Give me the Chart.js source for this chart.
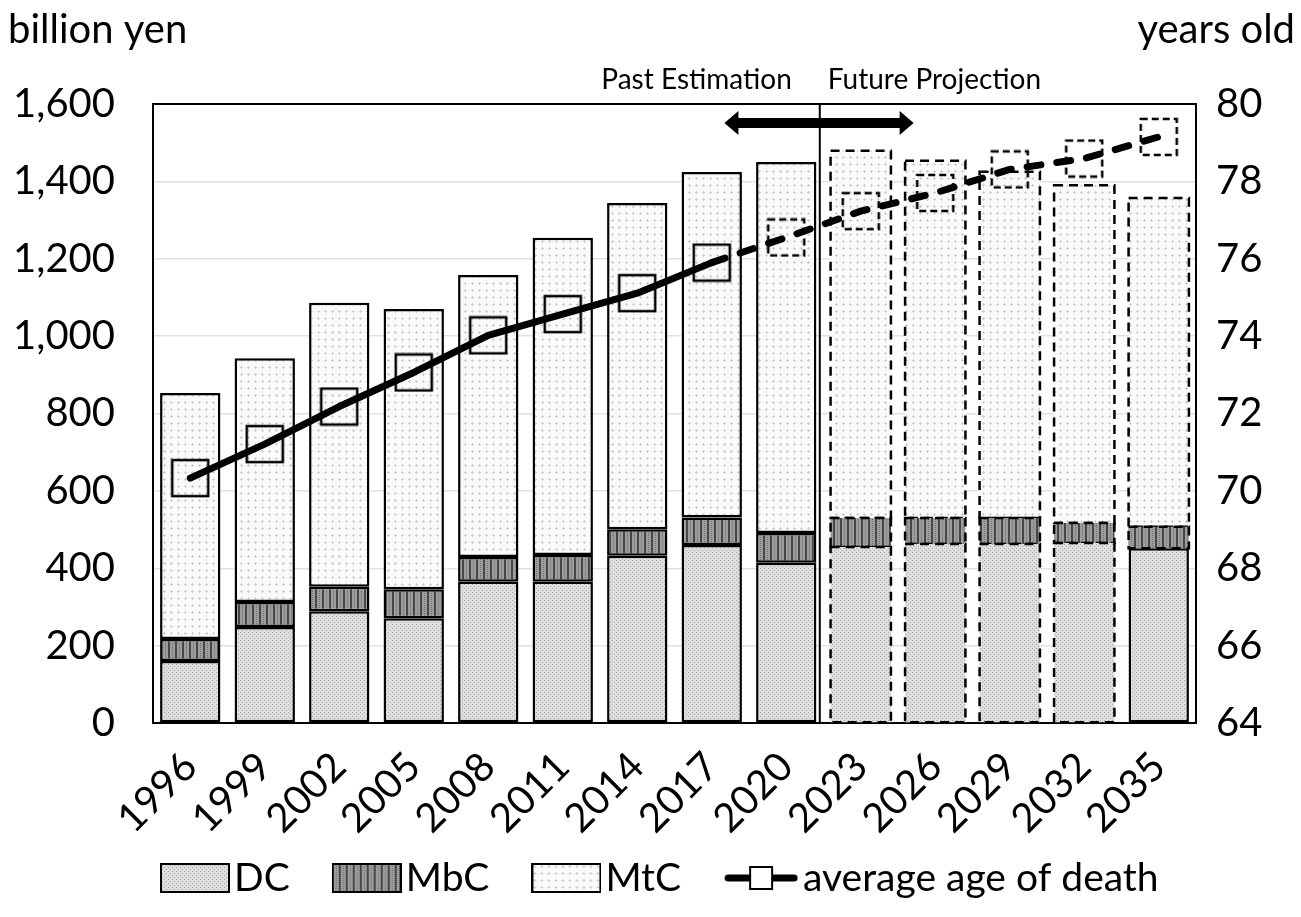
<!DOCTYPE html>
<html>
<head>
<meta charset="utf-8">
<script src="https://cdn.jsdelivr.net/npm/chart.js@4.4.1/dist/chart.umd.min.js"></script>
<style>
  html, body { margin: 0; padding: 0; background: #fff; }
  #wrap { width: 1301px; height: 917px; }
</style>
</head>
<body>
<div id="wrap"><canvas id="chart"></canvas></div>
<script>
// values (billion yen / years old)
const years = ['1996', '1999', '2002', '2005', '2008', '2011', '2014', '2017', '2020', '2023', '2026', '2029', '2032', '2035'];
const dcValues = [160, 248, 289, 271, 365, 365, 432, 460, 414, 455, 463, 463, 465, 452];
const mbcValues = [57, 65, 63, 75, 64, 69, 69, 71, 77, 75, 67, 67, 52, 55];
const mtcValues = [636, 630, 734, 724, 729, 820, 843, 893, 959, 949, 923, 895, 873, 850];
const ageValues = [70.33, 71.21, 72.18, 73.06, 74.02, 74.57, 75.11, 75.9, 76.55, 77.23, 77.7, 78.31, 78.59, 79.15];

const FONT = 'Lato, "Open Sans", sans-serif';
const FIRST_PROJECTED_BAR = 9;   // 2023
const FIRST_DASHED_MARKER = 8;   // 2020
const FIRST_DASHED_SEGMENT = 7;  // 2017 -> 2020

function makeCanvas(w, h, draw) {
  const c = document.createElement('canvas');
  c.width = w;
  c.height = h;
  draw(c.getContext('2d'));
  return c;
}

// fill textures
const dcTile = makeCanvas(4, 4, g => {
  g.fillStyle = '#dedede';
  g.fillRect(0, 0, 4, 4);
  g.fillStyle = '#a9a9a9';
  g.fillRect(0, 0, 1, 1);
  g.fillRect(2, 2, 1, 1);
});
const mbcTile = makeCanvas(7, 4, g => {
  g.fillStyle = '#9c9c9c';
  g.fillRect(0, 0, 7, 4);
  g.fillStyle = '#474747';
  g.fillRect(0, 0, 2, 4);
  g.fillStyle = '#6e6e6e';
  g.fillRect(4, 1, 1, 1);
  g.fillRect(4, 3, 1, 1);
});
const mtcTile = makeCanvas(7, 7, g => {
  g.fillStyle = '#fafafa';
  g.fillRect(0, 0, 7, 7);
  g.fillStyle = '#cfcfcf';
  g.fillRect(3, 2, 1, 3);
  g.fillRect(2, 3, 3, 1);
});

const patternCtx = document.createElement('canvas').getContext('2d');
const dcFill = patternCtx.createPattern(dcTile, 'repeat');
const mbcFill = patternCtx.createPattern(mbcTile, 'repeat');
const mtcFill = patternCtx.createPattern(mtcTile, 'repeat');

function squareMarker(dashed) {
  return makeCanvas(40, 40, g => {
    g.strokeStyle = '#000';
    g.lineWidth = 2.5;
    if (dashed) g.setLineDash([7, 4]);
    g.strokeRect(2, 2, 36, 36);
  });
}
const solidSquare = squareMarker(false);
const dashedSquare = squareMarker(true);

function legendBox(fill) {
  return makeCanvas(70, 30, g => {
    g.fillStyle = g.createPattern(fill, 'repeat');
    g.fillRect(1, 1, 68, 28);
    g.strokeStyle = '#000';
    g.lineWidth = 2;
    g.strokeRect(1, 1, 68, 28);
  });
}
const legendLine = makeCanvas(76, 30, g => {
  g.strokeStyle = '#000';
  g.lineWidth = 7;
  g.lineCap = 'round';
  g.beginPath();
  g.moveTo(5, 15);
  g.lineTo(71, 15);
  g.stroke();
  g.fillStyle = '#fff';
  g.fillRect(27, 4, 22, 22);
  g.lineWidth = 2;
  g.strokeRect(27, 4, 22, 22);
});
const legendImages = [legendBox(dcTile), legendBox(mbcTile), legendBox(mtcTile), legendLine];

function barBorder(ctx) {
  if (ctx.dataIndex < FIRST_PROJECTED_BAR) return 2.5;
  // the last DC block keeps a solid outline in the original
  if (ctx.datasetIndex === 0 && ctx.dataIndex === years.length - 1) return 2.5;
  return 0;
}

const decor = {
  id: 'decor',
  beforeDatasetsDraw(chart) {
    const { ctx, chartArea: a } = chart;
    ctx.save();
    ctx.strokeStyle = '#000';
    ctx.lineWidth = 2;
    ctx.strokeRect(a.left, a.top, a.right - a.left, a.bottom - a.top);
    ctx.restore();
  },
  afterDatasetDraw(chart, args) {
    const meta = args.meta;
    if (meta.type !== 'bar') return;
    const ctx = chart.ctx;
    ctx.save();
    ctx.strokeStyle = '#000';
    ctx.lineWidth = 2.5;
    ctx.setLineDash([9, 6]);
    meta.data.forEach((bar, i) => {
      if (i < FIRST_PROJECTED_BAR) return;
      if (args.index === 0 && i === years.length - 1) return;
      const p = bar.getProps(['x', 'y', 'base', 'width'], true);
      const top = Math.min(p.y, p.base);
      const h = Math.abs(p.base - p.y);
      ctx.strokeRect(p.x - p.width / 2, top, p.width, h);
    });
    ctx.restore();
  },
  afterDraw(chart) {
    const { ctx, chartArea: a, scales } = chart;
    const x = scales.x;
    ctx.save();
    ctx.fillStyle = '#000';
    ctx.strokeStyle = '#000';

    // unit titles
    ctx.font = '40px ' + FONT;
    ctx.textBaseline = 'middle';
    ctx.textAlign = 'left';
    ctx.fillText('billion yen', 8, 30);
    ctx.textAlign = 'right';
    ctx.fillText('years old', 1295, 30);

    // past / future divider
    const divX = x.getPixelForValue(8.45);
    ctx.lineWidth = 2;
    ctx.beginPath();
    ctx.moveTo(divX, a.top);
    ctx.lineTo(divX, a.bottom);
    ctx.stroke();

    ctx.font = '28px ' + FONT;
    ctx.textAlign = 'right';
    ctx.fillText('Past Estimation', divX - 28, 80);
    ctx.textAlign = 'left';
    ctx.fillText('Future Projection', divX + 8, 80);

    // double headed arrow
    const ax1 = x.getPixelForValue(7.17);
    const ax2 = x.getPixelForValue(9.71);
    const ay = 123;
    ctx.fillRect(ax1 + 12, ay - 5, ax2 - ax1 - 24, 10);
    ctx.beginPath();
    ctx.moveTo(ax1, ay);
    ctx.lineTo(ax1 + 14, ay - 12);
    ctx.lineTo(ax1 + 14, ay + 12);
    ctx.closePath();
    ctx.fill();
    ctx.beginPath();
    ctx.moveTo(ax2, ay);
    ctx.lineTo(ax2 - 14, ay - 12);
    ctx.lineTo(ax2 - 14, ay + 12);
    ctx.closePath();
    ctx.fill();

    // legend
    ctx.font = '39px ' + FONT;
    ctx.textAlign = 'left';
    ctx.textBaseline = 'middle';
    let lx = 160;
    const ly = 878;
    chart.data.datasets.forEach((ds, i) => {
      const img = legendImages[i];
      ctx.drawImage(img, lx, ly - img.height / 2);
      lx += img.width + 4;
      ctx.fillText(ds.label, lx, ly);
      lx += ctx.measureText(ds.label).width + 42;
    });
    ctx.restore();
  }
};

const tickFont = { family: FONT, size: 40 };

new Chart(document.getElementById('chart'), {
  data: {
    labels: years,
    datasets: [
      { type: 'bar', label: 'DC', data: dcValues, backgroundColor: dcFill, borderColor: '#000',
        borderWidth: barBorder, borderSkipped: false, stack: 'cost', order: 1 },
      { type: 'bar', label: 'MbC', data: mbcValues, backgroundColor: mbcFill, borderColor: '#000',
        borderWidth: barBorder, borderSkipped: false, stack: 'cost', order: 1 },
      { type: 'bar', label: 'MtC', data: mtcValues, backgroundColor: mtcFill, borderColor: '#000',
        borderWidth: barBorder, borderSkipped: false, stack: 'cost', order: 1 },
      { type: 'line', label: 'average age of death', data: ageValues, yAxisID: 'y1', order: 0,
        borderColor: '#000', borderWidth: 7, borderCapStyle: 'round', borderJoinStyle: 'round',
        tension: 0, fill: false,
        segment: { borderDash: c => c.p0DataIndex >= FIRST_DASHED_SEGMENT ? [14, 16] : [] },
        pointStyle: c => c.dataIndex >= FIRST_DASHED_MARKER ? dashedSquare : solidSquare,
        pointRadius: 19, pointHoverRadius: 19 }
    ]
  },
  options: {
    responsive: true,
    maintainAspectRatio: false,
    animation: false,
    layout: { padding: { top: 104, left: 0, right: 0, bottom: 0 } },
    datasets: { bar: { barPercentage: 0.81, categoryPercentage: 1 } },
    plugins: { legend: { display: false }, tooltip: { enabled: false } },
    scales: {
      x: {
        stacked: true,
        grid: { display: false },
        border: { display: false },
        ticks: { color: '#000', font: tickFont, minRotation: 45, maxRotation: 45, autoSkip: false, padding: 12 },
        afterFit: s => { s.height = 194; }
      },
      y: {
        stacked: true,
        min: 0,
        max: 1600,
        grid: { color: '#e2e2e2', lineWidth: 1.5, drawTicks: false },
        border: { display: false },
        ticks: { color: '#000', font: tickFont, stepSize: 200, padding: 38,
          callback: v => v.toLocaleString('en-US') },
        afterFit: s => { s.width = 153; }
      },
      y1: {
        position: 'right',
        min: 64,
        max: 80,
        grid: { drawOnChartArea: false, drawTicks: false },
        border: { display: false },
        ticks: { color: '#000', font: tickFont, stepSize: 2, padding: 20 },
        afterFit: s => { s.width = 105; }
      }
    }
  },
  plugins: [decor]
});
</script>
</body>
</html>
